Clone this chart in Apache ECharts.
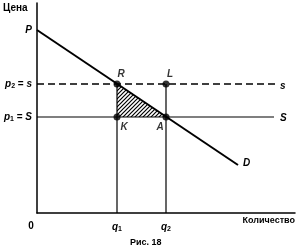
<!DOCTYPE html>
<html>
<head>
<meta charset="utf-8">
<script src="https://cdn.jsdelivr.net/npm/echarts@6/dist/echarts.min.js"></script>
<style>
  html, body { margin: 0; padding: 0; background: #fff; }
  #main { width: 300px; height: 251px; }
</style>
</head>
<body>
<div id="main"></div>
<script>
// данные графика (единицы оси ~ пиксели исходного рисунка)
var demandX = [0, 201];
var demandY = [183, 48];
var pLow = 96;    // p1 = S
var pHigh = 129;  // p2 = s
var q1 = 80;
var q2 = 129;
var lineEndX = [238, 237];   // конец линий s и S
var pointNames = ['R', 'L', 'K', 'A'];
var pointX = [80, 129, 80, 129];
var pointY = [129, 129, 96, 96];
var triangle = ['R', 'K', 'A'];
var xTickValues = [0, 80, 129];
var xTickLabels = ['{z|0}', '{i|q}{sub|1}', '{i|q}{sub|2}'];
var yTickValues = [183, 129, 96];
var yTickLabels = ['{i|P}', '{i|p}{sub|2}{n| = }{i|s}', '{i|p}{sub|1}{n| = }{i|S}'];

var FONT = 'Liberation Sans';
var richStyle = {
    i: { fontFamily: FONT, fontStyle: 'italic', fontWeight: 'bold', fontSize: 10, color: '#000' },
    n: { fontFamily: FONT, fontWeight: 'bold', fontSize: 10, color: '#000' },
    z: { fontFamily: FONT, fontWeight: 'bold', fontSize: 10, color: '#000', padding: [0, 12, 0, 0] },
    sub: { fontFamily: FONT, fontWeight: 'bold', fontSize: 7, color: '#000', verticalAlign: 'bottom', padding: [5, 0, 0, 0] }
};

// штриховка треугольника
function makeHatch() {
    var c = document.createElement('canvas');
    c.width = 4; c.height = 4;
    var ctx = c.getContext('2d');
    ctx.strokeStyle = '#000';
    ctx.lineWidth = 1.2;
    ctx.beginPath();
    ctx.moveTo(0, 4); ctx.lineTo(4, 0);
    ctx.moveTo(-1, 1); ctx.lineTo(1, -1);
    ctx.moveTo(3, 5); ctx.lineTo(5, 3);
    ctx.stroke();
    return c;
}
var hatch = makeHatch();

var triData = triangle.map(function (n) {
    var k = pointNames.indexOf(n);
    return [pointX[k], pointY[k]];
});

var labelPos = {
    R: { position: 'top', offset: [4, 4] },
    L: { position: 'top', offset: [4, 4] },
    K: { position: 'bottom', offset: [7, -3] },
    A: { position: 'bottom', offset: [-6, -3] }
};

var myChart = echarts.init(document.getElementById('main'));

var option = {
    animation: false,
    backgroundColor: '#fff',
    grid: { left: 37, right: 5, top: 3, bottom: 38 },
    xAxis: {
        type: 'value',
        min: 0,
        max: 258,
        axisLine: { show: true, lineStyle: { color: '#000', width: 1.5 } },
        axisTick: { show: false },
        splitLine: { show: false },
        axisLabel: {
            customValues: xTickValues,
            margin: 8,
            color: '#000',
            fontFamily: FONT,
            fontWeight: 'bold',
            fontSize: 10,
            rich: richStyle,
            formatter: function (v) {
                return xTickLabels[xTickValues.indexOf(v)] || '';
            }
        }
    },
    yAxis: {
        type: 'value',
        min: 0,
        max: 210,
        axisLine: { show: true, lineStyle: { color: '#000', width: 1.5 } },
        axisTick: { show: false },
        splitLine: { show: false },
        axisLabel: {
            customValues: yTickValues,
            margin: 5,
            color: '#000',
            rich: richStyle,
            formatter: function (v) {
                return yTickLabels[yTickValues.indexOf(v)] || '';
            }
        }
    },
    graphic: [
        { type: 'text', left: 3, top: 3, style: { text: 'Цена', font: 'bold 10px "Liberation Sans"', fill: '#000' } },
        { type: 'text', right: 5, top: 216, style: { text: 'Количество', font: 'bold 9px "Liberation Sans"', fill: '#000' } },
        { type: 'text', left: 130, top: 238, style: { text: 'Рис. 18', font: 'bold 9px "Liberation Sans"', fill: '#000' } }
    ],
    series: [
        {
            type: 'custom',
            silent: true,
            z: 1,
            renderItem: function (params, api) {
                if (params.dataIndex > 0) return;
                var pts = triData.map(function (d) { return api.coord(d); });
                return {
                    type: 'polygon',
                    shape: { points: pts },
                    style: { fill: { image: hatch, repeat: 'repeat' }, stroke: 'none' }
                };
            },
            data: [0]
        },
        {
            name: 'D',
            type: 'line',
            symbol: 'none',
            data: demandX.map(function (x, i) { return [x, demandY[i]]; }),
            lineStyle: { color: '#000', width: 2 },
            endLabel: {
                show: true, formatter: 'D', distance: 5, offset: [0, -2],
                fontFamily: FONT, fontStyle: 'italic', fontWeight: 'bold', fontSize: 10, color: '#000'
            },
            z: 3
        },
        {
            name: 's',
            type: 'line',
            symbol: 'none',
            data: [[0, pHigh], [lineEndX[0], pHigh]],
            lineStyle: { color: '#000', width: 1.5, type: [7, 4] },
            endLabel: {
                show: true, formatter: 's', distance: 5, offset: [0, 2],
                fontFamily: FONT, fontStyle: 'italic', fontWeight: 'bold', fontSize: 10, color: '#000'
            },
            z: 3
        },
        {
            name: 'S',
            type: 'line',
            symbol: 'none',
            data: [[0, pLow], [lineEndX[1], pLow]],
            lineStyle: { color: '#000', width: 1.2 },
            endLabel: {
                show: true, formatter: 'S', distance: 6, offset: [0, 1],
                fontFamily: FONT, fontStyle: 'italic', fontWeight: 'bold', fontSize: 10, color: '#000'
            },
            z: 3
        },
        {
            name: 'q1',
            type: 'line',
            symbol: 'none',
            data: [[q1, 0], [q1, pHigh]],
            lineStyle: { color: '#000', width: 1.2 },
            z: 3
        },
        {
            name: 'q2',
            type: 'line',
            symbol: 'none',
            data: [[q2, 0], [q2, pHigh]],
            lineStyle: { color: '#000', width: 1.2 },
            z: 3
        },
        {
            name: 'points',
            type: 'scatter',
            symbol: 'circle',
            symbolSize: 7,
            itemStyle: { color: '#000' },
            z: 4,
            data: pointNames.map(function (n, i) {
                return {
                    name: n,
                    value: [pointX[i], pointY[i]],
                    label: {
                        show: true,
                        formatter: n,
                        position: labelPos[n].position,
                        offset: labelPos[n].offset,
                        fontFamily: FONT, fontStyle: 'italic', fontWeight: 'bold', fontSize: 10, color: '#000'
                    }
                };
            })
        }
    ]
};
myChart.setOption(option);
</script>
</body>
</html>
